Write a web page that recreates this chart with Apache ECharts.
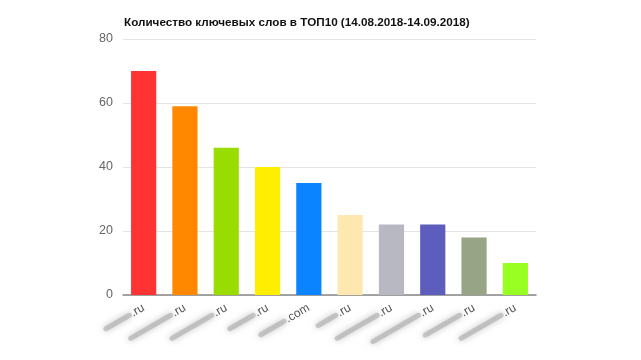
<!DOCTYPE html>
<html><head><meta charset="utf-8">
<script src="https://cdn.jsdelivr.net/npm/echarts@6/dist/echarts.min.js"></script>
<style>html,body{margin:0;padding:0;background:#fff}#c{width:641px;height:360px}</style>
</head><body><div id="c"></div>
<script>
const titleText = 'Количество ключевых слов в ТОП10 (14.08.2018-14.09.2018)';
// masked (blurred) part of each domain name, one mask char per hidden letter
const hidden = ['•••••', '••••••••', '••••••••', '•••••', '•••••', '••••', '••••••••', '•••••••••', '•••••••', '••••••••'];
const tlds = ['ru', 'ru', 'ru', 'ru', 'com', 'ru', 'ru', 'ru', 'ru', 'ru'];
const values = [70, 59, 46, 40, 35, 25, 22, 22, 18, 10];
const colors = ['#ff3333', '#ff8800', '#99dd00', '#ffee00', '#0a84ff', '#ffe8b0', '#b8b8c2', '#5d5dbd', '#97a486', '#99ff22'];
const categories = hidden.map((h, i) => h + '.' + tlds[i]);

const rich = {
  a: {fontFamily: 'Liberation Sans, Arial', fontSize: 12, color: '#555', verticalAlign: 'middle'}
};
hidden.forEach((h, i) => {
  rich['b' + i] = {
    width: h.length * 6.4, height: 5, backgroundColor: 'rgba(170,170,170,0.6)',
    borderRadius: 3, shadowBlur: 6, shadowColor: 'rgba(150,150,150,0.9)',
    color: 'rgba(0,0,0,0)', fontSize: 4, verticalAlign: 'middle'
  };
});

const chart = echarts.init(document.getElementById('c'), null, {renderer: 'canvas'});
chart.setOption({
  animation: false,
  title: {
    text: titleText, left: 119, top: 12,
    textStyle: {fontFamily: 'Liberation Sans, Arial', fontSize: 11.7, fontWeight: 'bold', color: '#111'}
  },
  grid: {left: 123, right: 105, top: 39, bottom: 65},
  xAxis: {
    type: 'category', data: categories,
    axisLine: {lineStyle: {color: '#888', width: 1.5}},
    axisTick: {show: false},
    axisLabel: {
      interval: 0, rotate: 30, margin: 12,
      formatter: function (v, idx) {
        const p = v.lastIndexOf('.');
        return '{b' + idx + '| }{a|' + v.slice(p) + '}';
      },
      rich: rich
    }
  },
  yAxis: {
    type: 'value', min: 0, max: 80, interval: 20,
    axisLine: {show: false}, axisTick: {show: false},
    axisLabel: {fontFamily: 'Liberation Sans, Arial', fontSize: 12.5, color: '#666', margin: 10},
    splitLine: {lineStyle: {color: '#e4e4e4', width: 1}}
  },
  series: [{
    type: 'bar', data: values, barWidth: '61%',
    itemStyle: {color: function (p) { return colors[p.dataIndex]; }}
  }]
});
</script></body></html>
